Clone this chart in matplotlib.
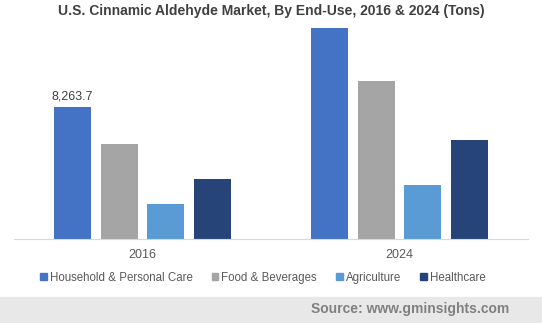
import numpy as np
import matplotlib.pyplot as plt
from matplotlib.patches import Rectangle, Patch

plt.rcParams['font.family'] = ['Liberation Sans', 'DejaVu Sans']

years = ['2016', '2024']
segments = ['Household & Personal Care', 'Food & Beverages', 'Agriculture', 'Healthcare']
household = [8263.7, 13200]
food = [5950, 9870]
agriculture = [2190, 3370]
healthcare = [3750, 6180]
colors = ['#4472C4', '#A5A5A5', '#5B9BD5', '#264478']

series = [household, food, agriculture, healthcare]

fig = plt.figure(figsize=(5.42, 3.23), dpi=100)
ax = fig.add_axes([14/542, 1 - 239/323, 514/542, 214/323])

x = np.arange(len(years))
width = 0.143
step = 0.181
for i, (vals, c) in enumerate(zip(series, colors)):
    ax.bar(x + (i - 1.5) * step, vals, width, color=c, label=segments[i])

# only the first bar is labelled in the original
ax.text(x[0] - 1.5 * step, household[0] + 250, f"{household[0]:,.1f}",
        ha='center', va='bottom', fontsize=9, color='#404040')

ax.set_xlim(-0.5, 1.5)
ax.set_ylim(0, 13360)
ax.set_xticks(x)
ax.set_xticklabels(years, fontsize=9, color='#595959')
ax.tick_params(axis='x', length=0, pad=7)
ax.set_yticks([])
for s in ['top', 'right', 'left']:
    ax.spines[s].set_visible(False)
ax.spines['bottom'].set_color('#d9d9d9')

fig.text(0.5, 1 - 11/323, 'U.S. Cinnamic Aldehyde Market, By End-Use, 2016 & 2024 (Tons)',
         ha='center', va='center', fontsize=10, fontweight='bold', color='#404040')

handles = [Patch(color=c) for c in colors]
fig.legend(handles, segments, loc='center', bbox_to_anchor=(0.485, 1 - 278/323), ncol=4,
           frameon=False, fontsize=8.3, handlelength=0.55, handleheight=0.55,
           handletextpad=0.25, columnspacing=1.7, labelcolor='#595959')

fig.patches.append(Rectangle((0, 0), 1, 26/323, transform=fig.transFigure,
                             color='#e8e8e8', zorder=0))
fig.text(509/542, 1 - 309/323, 'Source: www.gminsights.com', ha='right', va='center',
         fontsize=10, fontweight='bold', color='#808080')

fig.savefig('out.png', dpi=100)
